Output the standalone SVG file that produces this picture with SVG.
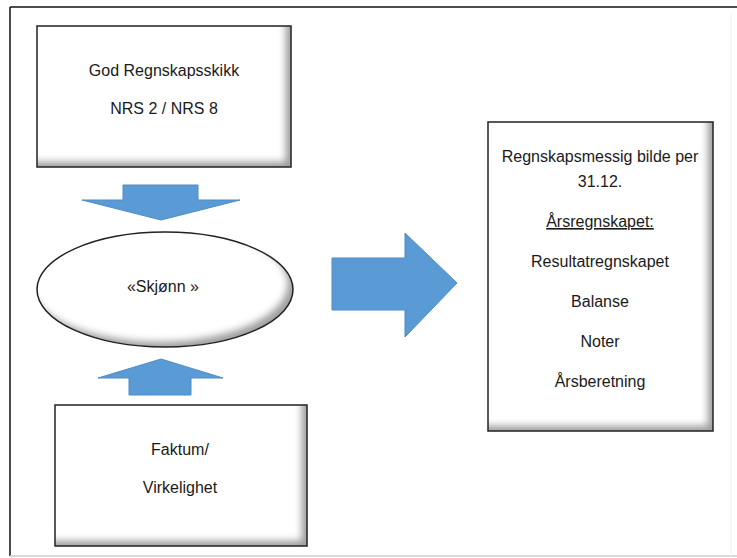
<svg xmlns="http://www.w3.org/2000/svg" width="737" height="558" viewBox="0 0 737 558">
<style>
text{font-family:"Liberation Sans",Arial,sans-serif;font-size:16px;fill:#1a1a1a;text-anchor:middle}
.box{fill:#fff;filter:url(#inner)}
.edge{fill:none;stroke:#222;stroke-width:1.5}
.arrow{fill:#5b9bd5;stroke:#4f8bc4;stroke-width:1}
</style>
<defs>
<filter id="inner" x="-10%" y="-10%" width="120%" height="120%">
<feComponentTransfer in="SourceAlpha" result="inv"><feFuncA type="table" tableValues="1 0"/></feComponentTransfer>
<feGaussianBlur in="inv" stdDeviation="3.5" result="blur"/>
<feOffset in="blur" dx="-6" dy="-6" result="off"/>
<feFlood flood-color="#000" flood-opacity="0.65"/>
<feComposite in2="off" operator="in" result="col"/>
<feComposite in="col" in2="SourceAlpha" operator="in" result="sh"/>
<feMerge><feMergeNode in="SourceGraphic"/><feMergeNode in="sh"/></feMerge>
</filter>
</defs>
<rect width="737" height="558" fill="#fff"/>
<g id="frame">
<line x1="10" y1="7" x2="737" y2="7" stroke="#111" stroke-width="1.5"/>
<line x1="10" y1="7" x2="10" y2="556" stroke="#111" stroke-width="1.5"/>
<line x1="10" y1="556" x2="737" y2="556" stroke="#ccc" stroke-width="1.5"/>
<line x1="731" y1="14" x2="731" y2="556" stroke="#f0f0f0" stroke-width="1"/>
</g>
<g id="connectors">
<polygon class="arrow" points="123,185 198,185 198,200 240,200 161,220 82,200 123,200"/>
<polygon class="arrow" points="161,359 223,378 191,378 191,395 129,395 129,378 98,378"/>
<polygon class="arrow" points="332,258 405,258 405,233 457,283 405,337 405,310 332,310"/>
</g>
<g id="god-regnskapsskikk">
<rect class="box" x="37" y="26" width="254" height="141"/>
<rect class="edge" x="37" y="26" width="254" height="141"/>
<text x="164" y="76">God Regnskapsskikk</text>
<text x="164" y="114">NRS 2 / NRS 8</text>
</g>
<g id="skjonn">
<ellipse class="box" cx="165" cy="289.5" rx="128" ry="57.5"/>
<ellipse class="edge" cx="165" cy="289.5" rx="128" ry="57.5"/>
<text x="163" y="292">«Skjønn »</text>
</g>
<g id="faktum">
<rect class="box" x="55" y="405" width="252" height="141"/>
<rect class="edge" x="55" y="405" width="252" height="141"/>
<text x="180" y="455">Faktum/</text>
<text x="180" y="493">Virkelighet</text>
</g>
<g id="regnskapsmessig-bilde">
<rect class="box" x="488" y="122" width="225" height="309"/>
<rect class="edge" x="488" y="122" width="225" height="309"/>
<text x="600" y="162">Regnskapsmessig bilde per</text>
<text x="600" y="187">31.12.</text>
<text x="600" y="227" text-decoration="underline">Årsregnskapet:</text>
<text x="600" y="267">Resultatregnskapet</text>
<text x="600" y="307">Balanse</text>
<text x="600" y="347">Noter</text>
<text x="600" y="387">Årsberetning</text>
</g>
</svg>
